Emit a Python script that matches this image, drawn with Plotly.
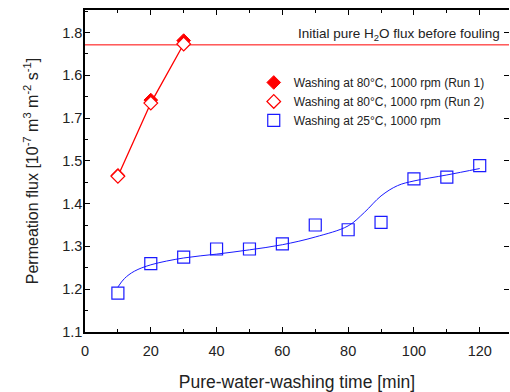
import plotly.graph_objects as go

# Data
time_red = [10, 20, 30]
run1 = [1.466, 1.642, 1.781]
run2 = [1.464, 1.635, 1.773]

time_blue = [10, 20, 30, 40, 50, 60, 70, 80, 90, 100, 110, 120]
flux_25 = [1.191, 1.260, 1.275, 1.294, 1.294, 1.306, 1.350, 1.339, 1.356, 1.458, 1.462, 1.489]

fit_x = [10, 12, 15, 20, 30, 40, 50, 60, 70, 80, 85, 90, 95, 100, 110, 120]
fit_y = [1.205, 1.225, 1.242, 1.257, 1.273, 1.282, 1.292, 1.304, 1.322, 1.348, 1.380, 1.418, 1.442, 1.453, 1.467, 1.482]

initial_flux = 1.771

x_ticks = [0, 20, 40, 60, 80, 100, 120]
y_tickvals = [1.1, 1.2, 1.3, 1.4, 1.5, 1.6, 1.7, 1.8]
y_ticktext = ["1.1", "1.2", "1.3", "1.4", "1.5", "1.7", "1.6", "1.8"]

RED = "#ff0000"
BLUE = "#1a1aff"
FONT = "Liberation Sans, Arial, sans-serif"

fig = go.Figure()

fig.add_trace(go.Scatter(x=[0, 130], y=[initial_flux, initial_flux], mode="lines",
                         line=dict(color=RED, width=1), showlegend=False, hoverinfo="skip"))
fig.add_trace(go.Scatter(x=fit_x, y=fit_y, mode="lines", line=dict(color=BLUE, width=1, shape="spline"),
                         showlegend=False, hoverinfo="skip"))
fig.add_trace(go.Scatter(x=time_red, y=run2, mode="lines", line=dict(color=RED, width=1.3),
                         showlegend=False, hoverinfo="skip"))

fig.add_trace(go.Scatter(x=time_red, y=run1, mode="markers", name="Washing at 80°C, 1000 rpm (Run 1)",
                         marker=dict(symbol="diamond", size=10.5, color=RED, line=dict(color=RED, width=1))))
fig.add_trace(go.Scatter(x=time_red, y=run2, mode="markers", name="Washing at 80°C, 1000 rpm (Run 2)",
                         marker=dict(symbol="diamond", size=10.5, color="white", line=dict(color=RED, width=1.2))))
fig.add_trace(go.Scatter(x=time_blue, y=flux_25, mode="markers", name="Washing at 25°C, 1000 rpm",
                         marker=dict(symbol="square", size=12, color="rgba(255,255,255,0)",
                                     line=dict(color=BLUE, width=1.2))))

fig.add_trace(go.Scatter(x=[None], y=[None], yaxis="y2", showlegend=False, hoverinfo="skip"))

fig.update_layout(
    width=510, height=392,
    margin=dict(l=85, r=1, t=10, b=59.5),
    paper_bgcolor="white", plot_bgcolor="white",
    font=dict(family=FONT, color="#222222", size=14),
    showlegend=True,
    legend=dict(x=0.398, y=0.82, xanchor="left", yanchor="top", bgcolor="rgba(0,0,0,0)",
                font=dict(size=12, color="#222222"), tracegroupgap=0),
    xaxis=dict(range=[0, 128.9], tickvals=x_ticks, ticks="inside", ticklen=5, tickwidth=1.2,
               tickcolor="black", showline=True, linecolor="black", linewidth=1.5, automargin=False,
               mirror="ticks", showgrid=False, zeroline=False, ticklabelstandoff=5,
               minor=dict(dtick=10, tick0=0, ticks="inside", ticklen=3, tickcolor="black", tickwidth=1),
               title=dict(text="Pure-water-washing time [min]", font=dict(size=17.5), standoff=22),
               tickfont=dict(size=14.5)),
    yaxis=dict(range=[1.1, 1.8525], tickvals=y_tickvals, ticktext=y_ticktext, ticks="inside",
               ticklen=5, tickwidth=1.2, tickcolor="black", showline=True, linecolor="black",
               linewidth=1.5, showgrid=False, zeroline=False, ticklabelstandoff=-2, automargin=False,
               minor=dict(dtick=0.05, tick0=1.1, ticks="inside", ticklen=3, tickcolor="black", tickwidth=1),
               title=dict(text="Permeation flux [10<sup>-7</sup> m<sup>3</sup> m<sup>-2</sup> s<sup>-1</sup>]",
                          font=dict(size=16), standoff=20),
               tickfont=dict(size=14.5)),
    yaxis2=dict(overlaying="y", side="right", matches="y", range=[1.1, 1.8525], tickvals=y_tickvals,
                showticklabels=False, ticks="inside", ticklen=5, tickwidth=1.2, tickcolor="black",
                showline=False, showgrid=False, zeroline=False, automargin=False),
    annotations=[dict(x=0.984, y=initial_flux, xref="paper", yref="y", xanchor="right", yanchor="bottom",
                      text="Initial pure H<sub>2</sub>O flux before fouling", showarrow=False,
                      font=dict(size=13.5, color="#222222"), yshift=0)],
)

fig.write_html("out.html")
